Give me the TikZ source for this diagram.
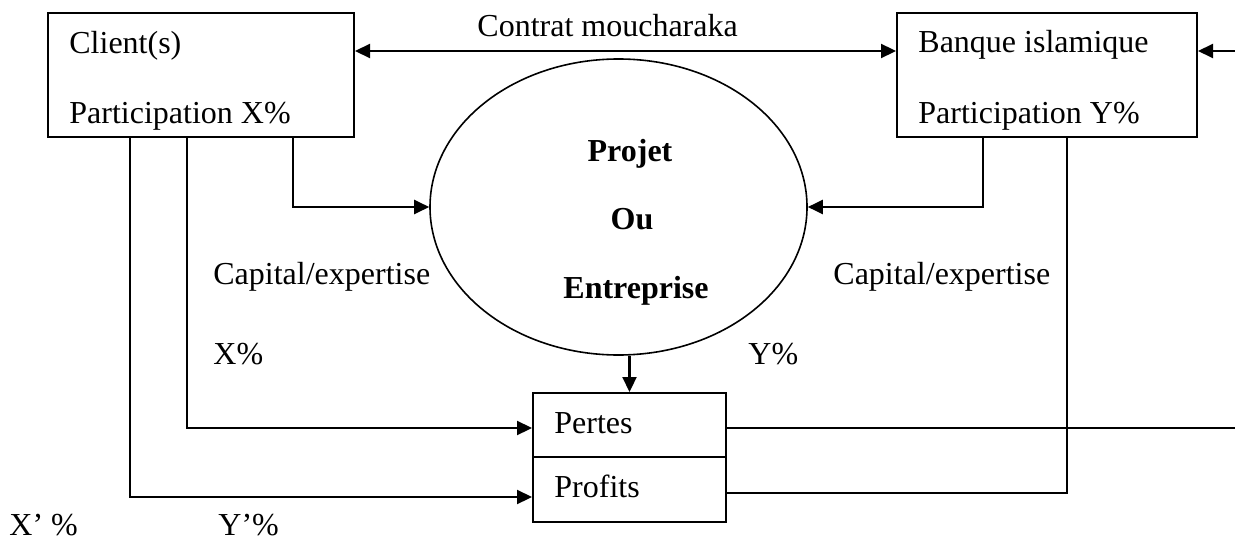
\documentclass[tikz,border=0pt]{standalone}
\usepackage{fontspec}
\setmainfont{Liberation Serif}
\usetikzlibrary{arrows.meta,shapes.geometric,calc}
\begin{document}
\begin{tikzpicture}[x=0.5pt,y=-0.5pt,
  every node/.style={font=\fontsize{16}{19}\selectfont},
  txt/.style={inner sep=0pt,anchor=base west},
  ctxt/.style={inner sep=0pt,anchor=base,font=\fontsize{16}{19}\selectfont\bfseries},
  box/.style={draw,line width=1pt,inner sep=0pt},
  link/.style={line width=1.1pt,-{Triangle[length=7.5pt,width=7pt]}},
  both/.style={line width=1.1pt,{Triangle[length=7.5pt,width=7pt]}-{Triangle[length=7.5pt,width=7pt]}},
  plain/.style={line width=1.1pt}]
\useasboundingbox (0,0) rectangle (1235,540);

% partners, project and outcome boxes
\node[box,minimum width=153pt,minimum height=62pt] (client) at (201,75) {};
\node[box,minimum width=150pt,minimum height=62pt] (bank) at (1047,75) {};
\node[draw,ellipse,line width=0.8pt,inner sep=0pt,minimum width=188.5pt,minimum height=148pt] (proj) at (618.5,207) {};
\node[box,minimum width=96.5pt,minimum height=32pt] (pertes) at (629.5,425) {};
\node[box,minimum width=96.5pt,minimum height=32.5pt] (profits) at (629.5,489.5) {};

% texts
\node[txt] (clientA) at (69,54) {Client(s)};
\node[txt] (clientB) at (69,123) {Participation X\%};
\node[txt] (bankA) at (918,53) {Banque islamique};
\node[txt] (bankB) at (918,123) {Participation Y\%};
\node[txt] (contrat) at (477,37) {Contrat moucharaka};
\node[ctxt] (projA) at (630,161) {Projet};
\node[ctxt] (projB) at (632,229) {Ou};
\node[ctxt] (projC) at (636,298) {Entreprise};
\node[txt] (capL) at (213,284) {Capital/expertise};
\node[txt] (capR) at (833,284) {Capital/expertise};
\node[txt] (pctX) at (213,364) {X\%};
\node[txt] (pctY) at (748,364) {Y\%};
\node[txt] (pertesT) at (554,433) {Pertes};
\node[txt] (profitsT) at (554,497) {Profits};
\node[txt] (pctXp) at (9,535) {X’ \%};
\node[txt] (pctYp) at (218,535) {Y’\%};

% routing levels and columns
\coordinate (lvlA) at (0,51);
\coordinate (lvlP) at (0,428);
\coordinate (lvlQ) at (0,497);
\coordinate (lvlR) at (0,493);
\coordinate (edgeR) at (1235,0);
\coordinate (xa) at (130,0);
\coordinate (xb) at (187,0);
\coordinate (xc) at (293,0);
\coordinate (xd) at (983,0);
\coordinate (xe) at (1067,0);

% connectors
\draw[both] (client.east |- lvlA) -- (bank.west |- lvlA);
\draw[link] (edgeR |- lvlA) -- (bank.east |- lvlA);
\draw[link] (client.south -| xc) |- (proj.west);
\draw[link] (bank.south -| xd) |- (proj.east);
\draw[link] (client.south -| xb) |- (pertes.west |- lvlP);
\draw[link] (client.south -| xa) |- (profits.west |- lvlQ);
\draw[plain] (pertes.east |- lvlP) -- (edgeR |- lvlP);
\draw[plain] (profits.east |- lvlR) -| (bank.south -| xe);
\draw[link] (proj.south -| pertes.north) -- (pertes.north);
\end{tikzpicture}
\end{document}
